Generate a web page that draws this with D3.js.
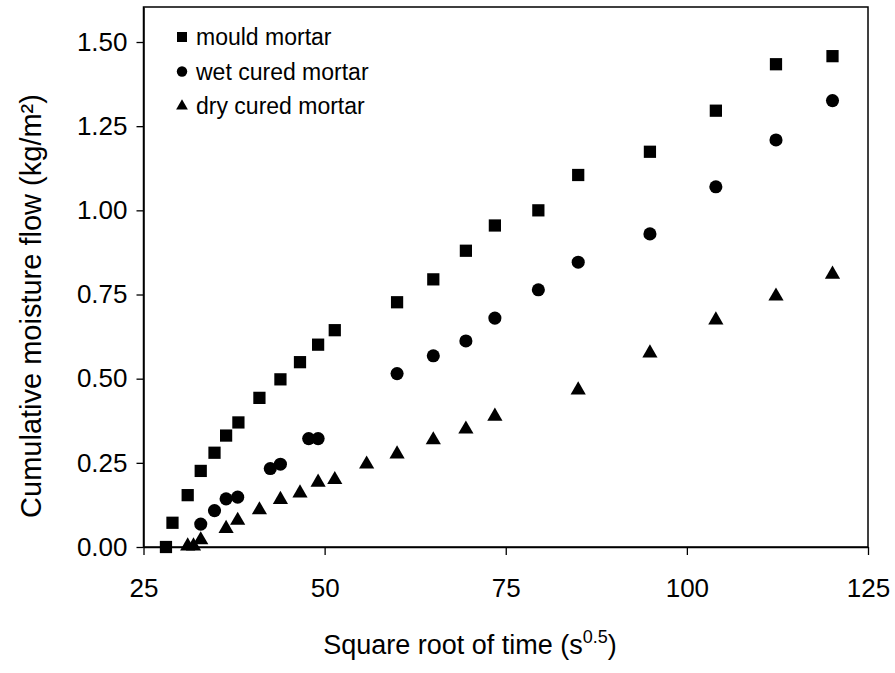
<!DOCTYPE html>
<html>
<head>
<meta charset="utf-8">
<script src="https://cdn.jsdelivr.net/npm/d3@7"></script>
<style>
  body { margin: 0; background: #fff; }
  svg { display: block; font-family: Arial, "Liberation Sans", sans-serif; }
</style>
</head>
<body>
<svg id="chart" width="895" height="673"></svg>
<script>
// Cumulative moisture flow against square root of time, three mortar types
const mouldX = [28.1, 29.0, 31.1, 32.9, 34.8, 36.4, 38.1, 41.0, 43.9, 46.6, 49.1, 51.4, 60.0, 65.0, 69.5, 73.5, 79.5, 85.0, 94.9, 104.0, 112.3, 120.1];
const mouldY = [0.00, 0.072, 0.154, 0.226, 0.28, 0.331, 0.37, 0.443, 0.498, 0.549, 0.601, 0.644, 0.727, 0.795, 0.88, 0.955, 1.00, 1.105, 1.174, 1.296, 1.434, 1.458];

const wetX = [32.9, 34.8, 36.4, 38.0, 42.5, 43.9, 47.8, 49.1, 60.0, 65.0, 69.5, 73.5, 79.5, 85.0, 94.9, 104.0, 112.3, 120.1];
const wetY = [0.068, 0.108, 0.143, 0.148, 0.233, 0.246, 0.322, 0.322, 0.515, 0.568, 0.612, 0.68, 0.764, 0.846, 0.93, 1.07, 1.209, 1.326];

const dryX = [31.1, 31.9, 32.9, 36.4, 38.0, 41.0, 43.9, 46.6, 49.1, 51.4, 55.8, 60.0, 65.0, 69.5, 73.5, 85.0, 94.9, 104.0, 112.3, 120.1];
const dryY = [0.00, 0.00, 0.018, 0.052, 0.076, 0.107, 0.138, 0.157, 0.189, 0.197, 0.243, 0.273, 0.315, 0.347, 0.385, 0.463, 0.573, 0.671, 0.742, 0.807];

const seriesNames = ["mould mortar", "wet cured mortar", "dry cured mortar"];
const xTicks = [25, 50, 75, 100, 125];
const yTicks = [0, 0.25, 0.5, 0.75, 1.0, 1.25, 1.5];

const svg = d3.select("#chart");
const plotLeft = 143.5, plotRight = 868, plotTop = 7, plotBottom = 547;

const x = d3.scaleLinear().domain([25, 125]).range([plotLeft, plotRight]);
const y = d3.scaleLinear().domain([0, 1.604]).range([plotBottom, plotTop]);

// frame
svg.append("rect")
  .attr("x", plotLeft).attr("y", plotTop)
  .attr("width", plotRight - plotLeft).attr("height", plotBottom - plotTop)
  .attr("fill", "none").attr("stroke", "#000").attr("stroke-width", 1.5);

// axes
const xAxis = svg.append("g")
  .attr("transform", `translate(0,${plotBottom})`)
  .call(d3.axisBottom(x).tickValues(xTicks).tickSize(8).tickSizeOuter(0).tickPadding(24)
    .tickFormat(d3.format("d")));
const yAxis = svg.append("g")
  .attr("transform", `translate(${plotLeft},0)`)
  .call(d3.axisLeft(y).tickValues(yTicks).tickSize(7).tickSizeOuter(0).tickPadding(9)
    .tickFormat(d3.format(".2f")));

[xAxis, yAxis].forEach(g => {
  g.select(".domain").attr("stroke", "#000").attr("stroke-width", 1.5);
  g.selectAll(".tick line").attr("stroke", "#000").attr("stroke-width", 1.3);
  g.selectAll(".tick text").attr("fill", "#000").attr("font-size", 26)
    .attr("font-family", "Arial, 'Liberation Sans', sans-serif");
});

// axis titles
svg.append("text")
  .attr("x", 470).attr("y", 654)
  .attr("text-anchor", "middle").attr("font-size", 27).attr("fill", "#000")
  .call(t => {
    t.append("tspan").text("Square root of time (s");
    t.append("tspan").attr("font-size", 18).attr("dy", -11).text("0.5");
    t.append("tspan").attr("dy", 11).text(")");
  });

svg.append("text")
  .attr("transform", "translate(41,306) rotate(-90)")
  .attr("text-anchor", "middle").attr("font-size", 29).attr("fill", "#000")
  .text("Cumulative moisture flow (kg/m²)");

// markers
const plot = svg.append("g");
const symbols = [d3.symbolSquare, d3.symbolCircle, d3.symbolTriangle];
const sizes = [150, 135, 100];
const data = [
  d3.zip(mouldX, mouldY),
  d3.zip(wetX, wetY),
  d3.zip(dryX, dryY)
];

data.forEach((pts, i) => {
  plot.selectAll(null).data(pts).enter().append("path")
    .attr("d", d3.symbol().type(symbols[i]).size(sizes[i]))
    .attr("transform", d => `translate(${x(d[0])},${y(d[1]) - (i === 2 ? 1 : 0)})`)
    .attr("fill", "#000");
});

// legend
const legend = svg.append("g");
const legendSizes = [100, 85, 60];
seriesNames.forEach((name, i) => {
  const cy = 37 + i * 34.5;
  legend.append("path")
    .attr("d", d3.symbol().type(symbols[i]).size(legendSizes[i]))
    .attr("transform", `translate(182,${cy})`)
    .attr("fill", "#000");
  legend.append("text")
    .attr("x", 196).attr("y", cy + 8)
    .attr("font-size", 23).attr("fill", "#000")
    .text(name);
});
</script>
</body>
</html>
